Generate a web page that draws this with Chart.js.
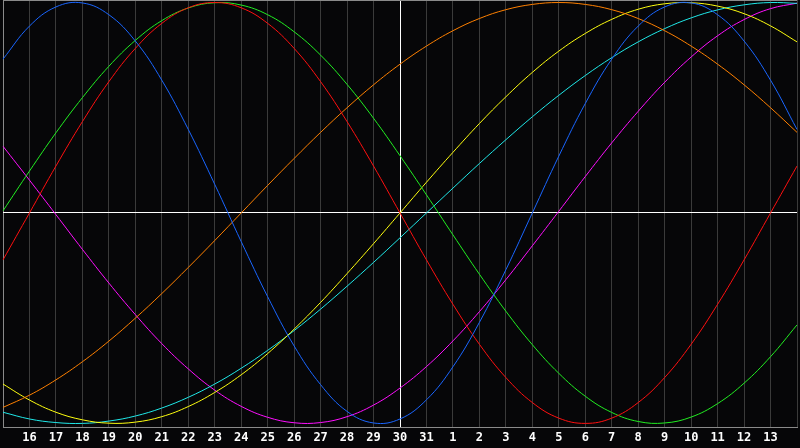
<!DOCTYPE html>
<html>
<head>
<meta charset="utf-8">
<script src="https://cdn.jsdelivr.net/npm/chart.js@4/dist/chart.umd.min.js"></script>
<style>
html,body{margin:0;padding:0;background:#060608;}
#wrap{width:800px;height:448px;}
</style>
</head>
<body>
<div id="wrap"><canvas id="c" width="800" height="448"></canvas></div>
<script>
const days = ['15','16','17','18','19','20','21','22','23','24','25','26','27','28','29','30','31','1','2','3','4','5','6','7','8','9','10','11','12','13','14'];

const physical = [0.731,0.888,0.979,0.998,0.942,0.817,0.631,0.397,0.136,-0.136,-0.398,-0.632,-0.816,-0.943,-0.998,-0.979,-0.888,-0.731,-0.520,-0.270,0.000,0.270,0.520,0.731,0.888,0.979,0.998,0.942,0.817,0.631,0.397];
const emotional = [-0.223,0.000,0.223,0.434,0.624,0.782,0.901,0.975,1.000,0.975,0.901,0.782,0.624,0.434,0.223,0.000,-0.223,-0.434,-0.624,-0.782,-0.901,-0.975,-1.000,-0.975,-0.901,-0.782,-0.624,-0.434,-0.223,0.000,0.223];
const intellectual = [0.010,0.199,0.381,0.548,0.697,0.820,0.914,0.974,0.999,0.988,0.942,0.861,0.750,0.611,0.450,0.272,0.086,-0.104,-0.291,-0.467,-0.626,-0.762,-0.871,-0.948,-0.991,-0.998,-0.970,-0.906,-0.809,-0.683,-0.532];
const awareness = [-0.924,-0.866,-0.793,-0.707,-0.609,-0.500,-0.383,-0.259,-0.131,0.000,0.131,0.259,0.383,0.500,0.609,0.707,0.793,0.866,0.924,0.966,0.991,1.000,0.991,0.966,0.924,0.866,0.793,0.707,0.609,0.500,0.383];
const aesthetic = [-0.813,-0.889,-0.947,-0.983,-0.999,-0.994,-0.968,-0.920,-0.853,-0.769,-0.668,-0.552,-0.425,-0.288,-0.146,0.000,0.146,0.288,0.425,0.552,0.668,0.769,0.853,0.920,0.968,0.994,0.999,0.983,0.947,0.889,0.813];
const spiritual = [-0.947,-0.979,-0.996,-1.000,-0.989,-0.965,-0.927,-0.876,-0.813,-0.738,-0.653,-0.559,-0.457,-0.348,-0.235,-0.118,0.000,0.118,0.235,0.348,0.457,0.559,0.653,0.738,0.813,0.876,0.927,0.965,0.989,1.000,0.996];
const intuitive = [0.317,0.156,-0.008,-0.173,-0.333,-0.483,-0.621,-0.741,-0.842,-0.919,-0.971,-0.997,-0.996,-0.968,-0.913,-0.832,-0.730,-0.608,-0.469,-0.317,-0.156,0.008,0.173,0.333,0.483,0.621,0.741,0.842,0.919,0.971,0.997];

const series = [
  {name:'Physical', data: physical, color:'#1a66ff'},
  {name:'Emotional', data: emotional, color:'#ff1010'},
  {name:'Intellectual', data: intellectual, color:'#22ee22'},
  {name:'Awareness', data: awareness, color:'#ff8000'},
  {name:'Aesthetic', data: aesthetic, color:'#ffff10'},
  {name:'Spiritual', data: spiritual, color:'#20e8e8'},
  {name:'Intuitive', data: intuitive, color:'#ff10ff'}
];

const Y_MIN = -1.02, Y_MAX = 1.012;
const TODAY = 15;

new Chart(document.getElementById('c'), {
  type: 'line',
  data: {
    labels: days,
    datasets: series.map(s => ({
      label: s.name,
      data: s.data,
      borderColor: s.color,
      borderWidth: 1,
      pointRadius: 0,
      tension: 0.4,
      fill: false
    }))
  },
  options: {
    responsive: false,
    animation: false,
    devicePixelRatio: 1,
    layout: {padding: {left: 0, right: 0, top: 0, bottom: 0}},
    plugins: {legend: {display: false}, tooltip: {enabled: false}},
    scales: {
      x: {
        offset: false,
        grid: {
          drawTicks: false,
          color: ctx => ctx.index === TODAY ? '#ffffff' : (ctx.index === 0 ? '#8a8a8a' : '#3a3a3a'),
          lineWidth: 1
        },
        border: {display: true, color: '#8a8a8a'},
        ticks: {
          autoSkip: false,
          maxRotation: 0,
          padding: 3,
          color: '#ffffff',
          font: {family: 'DejaVu Sans Mono', weight: 'bold', size: 12},
          callback: (v, i) => (i === 0 || i === days.length - 1) ? '' : days[i]
        }
      },
      y: {
        min: Y_MIN,
        max: Y_MAX,
        afterBuildTicks: scale => { scale.ticks = [{value: Y_MIN}, {value: 0}, {value: Y_MAX}]; },
        grid: {
          drawTicks: false,
          color: ctx => ctx.tick && ctx.tick.value === 0 ? '#ffffff' : '#8a8a8a',
          lineWidth: 1
        },
        border: {display: false},
        ticks: {display: false}
      }
    }
  }
});
</script>
</body>
</html>
